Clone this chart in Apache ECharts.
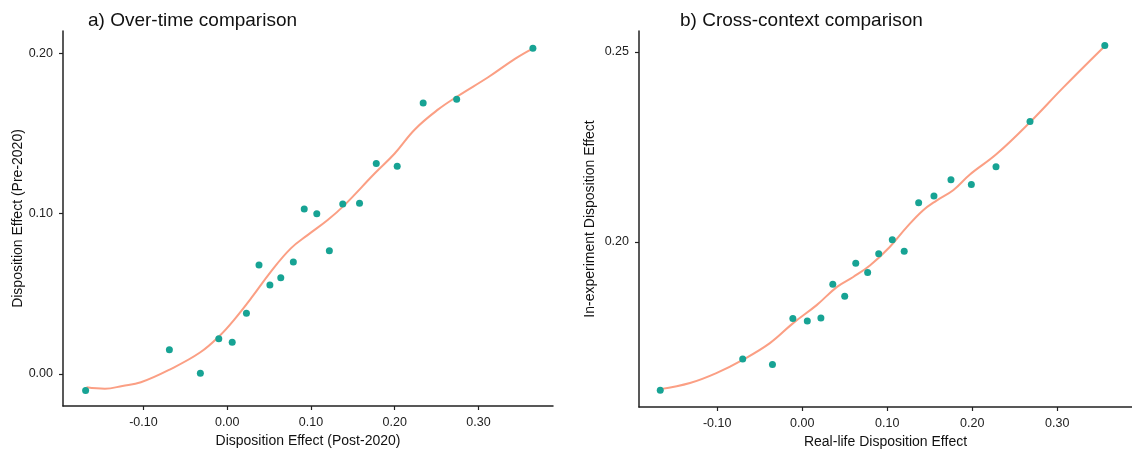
<!DOCTYPE html>
<html>
<head>
<meta charset="utf-8">
<script src="https://cdn.jsdelivr.net/npm/echarts@6/dist/echarts.min.js"></script>
<style>
  html, body { margin: 0; padding: 0; background: #fff; }
  #chart { width: 1132px; height: 454px; }
</style>
</head>
<body>
<div id="chart"></div>
<script>
// panel a) over-time: points
const postX = [-0.169, -0.069, -0.032, -0.010, 0.006, 0.023, 0.038, 0.051, 0.064, 0.079,
  0.092, 0.107, 0.122, 0.138, 0.158, 0.178, 0.203, 0.234, 0.274, 0.365]
const preY = [-0.0104, 0.0151, 0.0004, 0.0220, 0.0197, 0.0378, 0.0680, 0.0555, 0.0600, 0.0698,
  0.1028, 0.0999, 0.0768, 0.1060, 0.1065, 0.1313, 0.1296, 0.1690, 0.1713, 0.2031]
// panel a) smoothed curve
const curveAX = [-0.168, -0.146, -0.125, -0.103, -0.068, -0.032, -0.008, 0.008, 0.030, 0.052,
  0.076, 0.096, 0.120, 0.140, 0.176, 0.200, 0.224, 0.252, 0.276, 0.312, 0.344, 0.363]
const curveAY = [-0.0083, -0.0092, -0.0075, -0.0052, 0.0029, 0.0135, 0.0243, 0.0336, 0.0482, 0.0637,
  0.0783, 0.0866, 0.0960, 0.1053, 0.1250, 0.1375, 0.1525, 0.1650, 0.1735, 0.1852, 0.1967, 0.2025]

// panel b) cross-context: points
const realX = [-0.167, -0.070, -0.035, -0.011, 0.006, 0.022, 0.036, 0.050, 0.063, 0.077,
  0.090, 0.106, 0.120, 0.137, 0.155, 0.175, 0.199, 0.228, 0.268, 0.356]
const expY = [0.1610, 0.1692, 0.1678, 0.1799, 0.1792, 0.1800, 0.1889, 0.1857, 0.1944, 0.1920,
  0.1969, 0.2006, 0.1976, 0.2103, 0.2121, 0.2164, 0.2151, 0.2198, 0.2317, 0.2517]
// panel b) smoothed curve
const curveBX = [-0.167, -0.132, -0.101, -0.070, -0.038, -0.011, 0.017, 0.041, 0.060, 0.080,
  0.103, 0.123, 0.142, 0.158, 0.178, 0.197, 0.229, 0.268, 0.307, 0.354]
const curveBY = [0.1613, 0.1629, 0.1655, 0.1690, 0.1734, 0.1786, 0.1834, 0.1882, 0.1908, 0.1939,
  0.1987, 0.2039, 0.2083, 0.2109, 0.2137, 0.2177, 0.2232, 0.2315, 0.2406, 0.2511]

const xTicks = [-0.1, 0, 0.1, 0.2, 0.3]
const yTicksA = [0, 0.1, 0.2]
const yTicksB = [0.2, 0.25]

const pointColor = '#17a394'
const lineColor = '#fb9f84'
const font = 'Liberation Sans'

const zip = (xs, ys) => xs.map((x, i) => [x, ys[i]])

function valAxis(gridIndex, min, max, ticks, name, nameGap, isY) {
  return {
    type: 'value',
    gridIndex,
    min,
    max,
    name,
    nameLocation: 'middle',
    nameGap,
    nameTextStyle: { fontFamily: font, fontSize: 14, color: '#111' },
    axisLine: { show: true, onZero: false, lineStyle: { color: '#222', width: 1.5 } },
    axisTick: { show: true, length: 4, customValues: ticks, lineStyle: { color: '#222', width: 1.2 } },
    axisLabel: {
      customValues: ticks,
      formatter: (v) => v.toFixed(2),
      fontFamily: font,
      fontSize: 12.5,
      color: '#222',
      margin: isY ? 10 : 10
    },
    splitLine: { show: false }
  }
}

const chart = echarts.init(document.getElementById('chart'))
chart.setOption({
  animation: false,
  backgroundColor: '#fff',
  title: [
    { text: 'a) Over-time comparison', left: 83, top: 6,
      textStyle: { fontFamily: font, fontSize: 19, fontWeight: 'normal', color: '#111' } },
    { text: 'b) Cross-context comparison', left: 675, top: 6,
      textStyle: { fontFamily: font, fontSize: 19, fontWeight: 'normal', color: '#111' } }
  ],
  grid: [
    { left: 63, top: 31, width: 490, height: 375 },
    { left: 639, top: 31, width: 493, height: 376 }
  ],
  xAxis: [
    valAxis(0, -0.196, 0.389, xTicks, 'Disposition Effect (Post-2020)', 27, false),
    valAxis(1, -0.192, 0.388, xTicks, 'Real-life Disposition Effect', 27, false)
  ],
  yAxis: [
    valAxis(0, -0.020, 0.2139, yTicksA, 'Disposition Effect (Pre-2020)', 38, true),
    valAxis(1, 0.1566, 0.2555, yTicksB, 'In-experiment Disposition Effect', 42, true)
  ],
  series: [
    { type: 'line', xAxisIndex: 0, yAxisIndex: 0, data: zip(curveAX, curveAY), smooth: 0.4,
      showSymbol: false, lineStyle: { color: lineColor, width: 2 }, z: 2 },
    { type: 'scatter', xAxisIndex: 0, yAxisIndex: 0, data: zip(postX, preY), symbolSize: 7,
      itemStyle: { color: pointColor, opacity: 1 }, z: 3 },
    { type: 'line', xAxisIndex: 1, yAxisIndex: 1, data: zip(curveBX, curveBY), smooth: 0.4,
      showSymbol: false, lineStyle: { color: lineColor, width: 2 }, z: 2 },
    { type: 'scatter', xAxisIndex: 1, yAxisIndex: 1, data: zip(realX, expY), symbolSize: 7,
      itemStyle: { color: pointColor, opacity: 1 }, z: 3 }
  ]
})
</script>
</body>
</html>
